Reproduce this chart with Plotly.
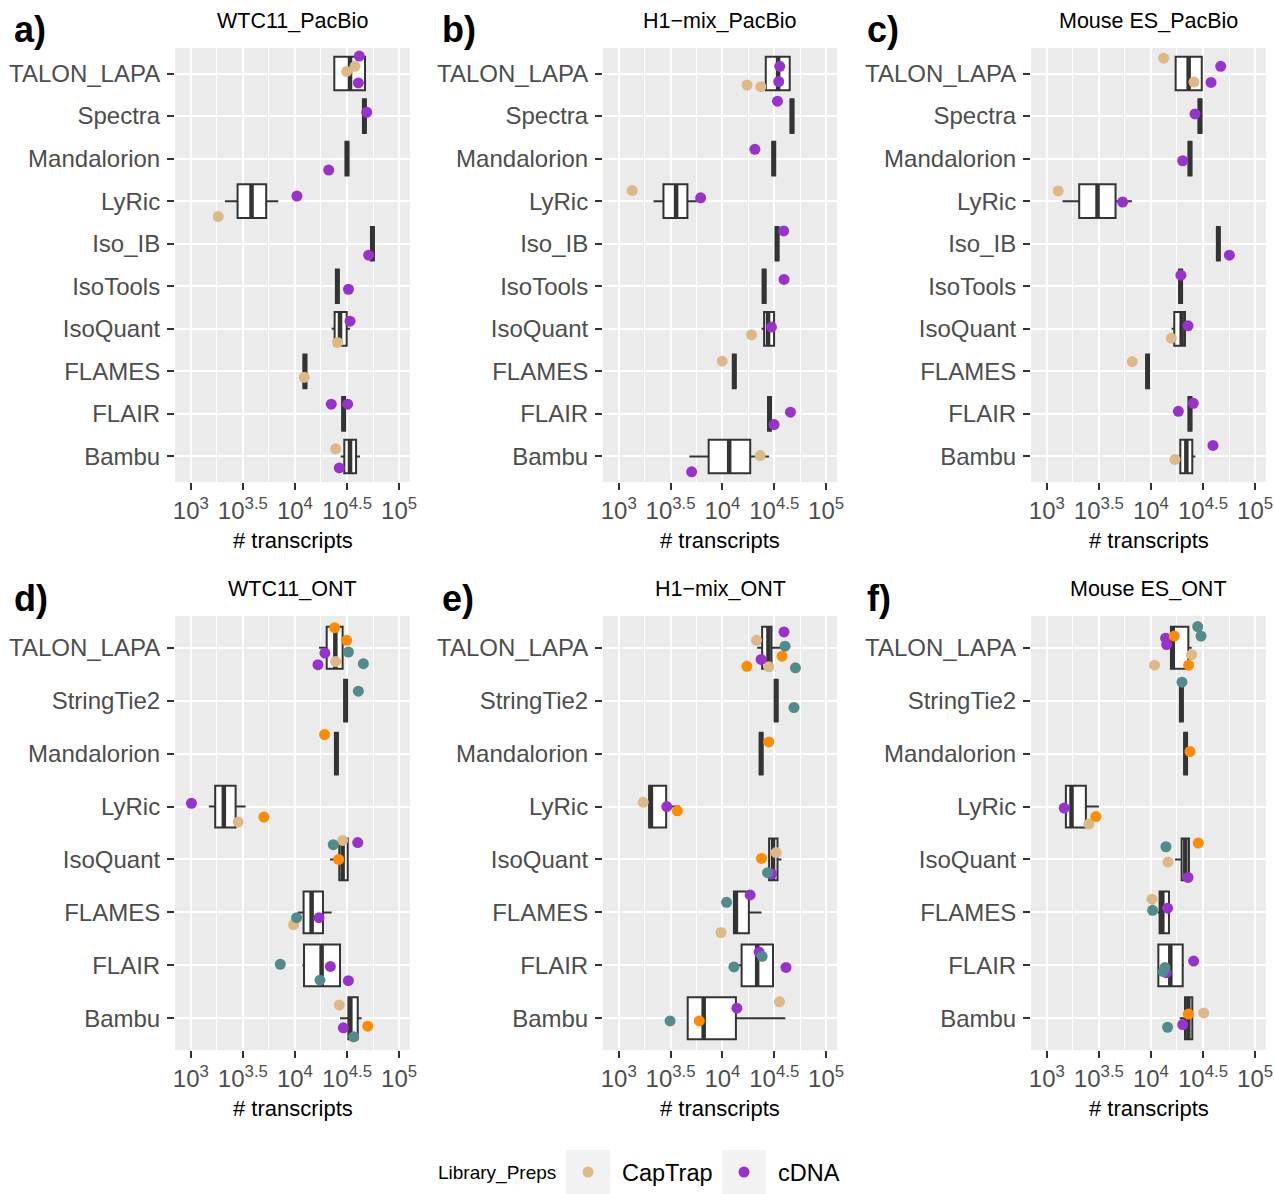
import plotly.graph_objects as go

# ---------------- data ----------------
PACBIO_METHODS = ["Bambu", "FLAIR", "FLAMES", "IsoQuant", "IsoTools", "Iso_IB",
                  "LyRic", "Mandalorion", "Spectra", "TALON_LAPA"]
ONT_METHODS = ["Bambu", "FLAIR", "FLAMES", "IsoQuant", "LyRic", "Mandalorion",
               "StringTie2", "TALON_LAPA"]

SAMPLES = ["WTC11_PacBio", "H1\u2212mix_PacBio", "Mouse ES_PacBio",
           "WTC11_ONT", "H1\u2212mix_ONT", "Mouse ES_ONT"]
PANEL_TAGS = ["a)", "b)", "c)", "d)", "e)", "f)"]

# box summaries in log10(# transcripts): (lower whisker, q1, median, q3, upper whisker)
wtc11_pacbio_box = [
    (4.439, 4.474, 4.529, 4.587, 4.625), (4.454, 4.454, 4.468, 4.482, 4.482),
    (4.082, 4.082, 4.096, 4.110, 4.110), (4.353, 4.381, 4.433, 4.497, 4.529),
    (4.393, 4.393, 4.407, 4.421, 4.421), (4.730, 4.730, 4.744, 4.758, 4.758),
    (3.327, 3.449, 3.583, 3.724, 3.840), (4.486, 4.486, 4.500, 4.514, 4.514),
    (4.653, 4.653, 4.667, 4.681, 4.681), (4.378, 4.378, 4.529, 4.673, 4.673)]
h1mix_pacbio_box = [
    (3.681, 3.867, 4.065, 4.268, 4.450), (4.440, 4.440, 4.454, 4.468, 4.468),
    (4.100, 4.100, 4.114, 4.128, 4.128), (4.377, 4.402, 4.440, 4.498, 4.498),
    (4.388, 4.388, 4.402, 4.416, 4.416), (4.513, 4.513, 4.527, 4.541, 4.541),
    (3.335, 3.431, 3.553, 3.662, 3.752), (4.481, 4.481, 4.495, 4.509, 4.509),
    (4.657, 4.657, 4.671, 4.685, 4.685), (4.418, 4.418, 4.537, 4.649, 4.649)]
mouse_pacbio_box = [
    (4.250, 4.282, 4.340, 4.397, 4.426), (4.361, 4.361, 4.375, 4.389, 4.389),
    (3.954, 3.954, 3.968, 3.982, 3.982), (4.199, 4.224, 4.295, 4.327, 4.327),
    (4.271, 4.271, 4.285, 4.299, 4.299), (4.633, 4.633, 4.647, 4.661, 4.661),
    (3.151, 3.311, 3.487, 3.660, 3.817), (4.361, 4.361, 4.375, 4.389, 4.389),
    (4.457, 4.457, 4.471, 4.485, 4.485), (4.237, 4.237, 4.362, 4.488, 4.488)]
wtc11_ont_box = [
    (4.433, 4.513, 4.532, 4.603, 4.641), (4.071, 4.087, 4.256, 4.433, 4.433),
    (4.026, 4.083, 4.160, 4.269, 4.353), (4.337, 4.426, 4.458, 4.507, 4.507),
    (3.173, 3.234, 3.317, 3.430, 3.526), (4.384, 4.384, 4.398, 4.412, 4.412),
    (4.473, 4.473, 4.487, 4.501, 4.501), (4.231, 4.305, 4.388, 4.458, 4.458)]
h1mix_ont_box = [
    (3.665, 3.665, 3.819, 4.130, 4.607), (4.114, 4.185, 4.335, 4.488, 4.488),
    (4.111, 4.111, 4.130, 4.255, 4.377), (4.450, 4.450, 4.488, 4.531, 4.569),
    (3.293, 3.293, 3.310, 3.457, 3.585), (4.359, 4.359, 4.373, 4.387, 4.387),
    (4.504, 4.504, 4.518, 4.532, 4.532), (4.335, 4.383, 4.444, 4.473, 4.569)]
mouse_ont_box = [
    (4.276, 4.327, 4.359, 4.397, 4.397), (4.071, 4.071, 4.186, 4.305, 4.317),
    (4.064, 4.083, 4.109, 4.173, 4.173), (4.231, 4.295, 4.330, 4.365, 4.365),
    (3.183, 3.183, 3.237, 3.375, 3.500), (4.319, 4.319, 4.333, 4.347, 4.347),
    (4.278, 4.278, 4.292, 4.306, 4.306), (4.192, 4.192, 4.210, 4.359, 4.391)]

# individual replicates: (method, library prep, log10(# transcripts), vertical jitter)
wtc11_pacbio_pts = [
    ("TALON_LAPA", "cDNA", 4.618, 0.41), ("TALON_LAPA", "CapTrap", 4.577, 0.17),
    ("TALON_LAPA", "CapTrap", 4.497, 0.05), ("TALON_LAPA", "cDNA", 4.609, -0.22),
    ("Spectra", "cDNA", 4.689, 0.09), ("Mandalorion", "cDNA", 4.324, -0.27),
    ("LyRic", "cDNA", 4.019, 0.12), ("LyRic", "CapTrap", 3.263, -0.36),
    ("Iso_IB", "cDNA", 4.708, -0.27), ("IsoTools", "cDNA", 4.514, -0.07),
    ("IsoQuant", "cDNA", 4.529, 0.18), ("IsoQuant", "CapTrap", 4.410, -0.32),
    ("FLAMES", "CapTrap", 4.090, -0.14), ("FLAIR", "cDNA", 4.349, 0.23),
    ("FLAIR", "cDNA", 4.506, 0.23), ("Bambu", "CapTrap", 4.391, 0.18),
    ("Bambu", "cDNA", 4.426, -0.27)]
h1mix_pacbio_pts = [
    ("TALON_LAPA", "cDNA", 4.553, 0.17), ("TALON_LAPA", "cDNA", 4.543, -0.19),
    ("TALON_LAPA", "CapTrap", 4.238, -0.27), ("TALON_LAPA", "CapTrap", 4.370, -0.31),
    ("Spectra", "cDNA", 4.531, 0.35), ("Mandalorion", "cDNA", 4.313, 0.22),
    ("LyRic", "CapTrap", 3.130, 0.25), ("LyRic", "cDNA", 3.790, 0.08),
    ("Iso_IB", "cDNA", 4.591, 0.30), ("IsoTools", "cDNA", 4.594, 0.16),
    ("IsoQuant", "cDNA", 4.473, 0.04), ("IsoQuant", "CapTrap", 4.281, -0.14),
    ("FLAMES", "CapTrap", 3.998, 0.24), ("FLAIR", "cDNA", 4.656, 0.04),
    ("FLAIR", "cDNA", 4.498, -0.25), ("Bambu", "CapTrap", 4.364, 0.02),
    ("Bambu", "cDNA", 3.703, -0.36)]
mouse_pacbio_pts = [
    ("TALON_LAPA", "CapTrap", 4.122, 0.36), ("TALON_LAPA", "cDNA", 4.670, 0.17),
    ("TALON_LAPA", "CapTrap", 4.413, -0.20), ("TALON_LAPA", "cDNA", 4.577, -0.21),
    ("Spectra", "cDNA", 4.423, 0.05), ("Mandalorion", "cDNA", 4.305, -0.05),
    ("LyRic", "CapTrap", 3.109, 0.24), ("LyRic", "cDNA", 3.728, -0.02),
    ("Iso_IB", "cDNA", 4.753, -0.27), ("IsoTools", "cDNA", 4.288, 0.26),
    ("IsoQuant", "cDNA", 4.356, 0.07), ("IsoQuant", "CapTrap", 4.195, -0.22),
    ("FLAMES", "CapTrap", 3.820, 0.23), ("FLAIR", "cDNA", 4.407, 0.25),
    ("FLAIR", "cDNA", 4.263, 0.06), ("Bambu", "cDNA", 4.596, 0.26),
    ("Bambu", "CapTrap", 4.231, -0.07)]
wtc11_ont_pts = [
    ("TALON_LAPA", "R2C2", 4.381, 0.38), ("TALON_LAPA", "R2C2", 4.497, 0.14),
    ("TALON_LAPA", "dRNA", 4.513, -0.08), ("TALON_LAPA", "cDNA", 4.288, -0.10),
    ("TALON_LAPA", "CapTrap", 4.391, -0.26), ("TALON_LAPA", "cDNA", 4.221, -0.32),
    ("TALON_LAPA", "dRNA", 4.657, -0.30), ("StringTie2", "dRNA", 4.609, 0.18),
    ("Mandalorion", "R2C2", 4.285, 0.36), ("LyRic", "cDNA", 3.006, 0.06),
    ("LyRic", "CapTrap", 3.455, -0.29), ("LyRic", "R2C2", 3.702, -0.20),
    ("IsoQuant", "dRNA", 4.368, 0.28), ("IsoQuant", "CapTrap", 4.458, 0.36),
    ("IsoQuant", "cDNA", 4.603, 0.32), ("IsoQuant", "R2C2", 4.420, 0.00),
    ("FLAMES", "dRNA", 4.016, -0.10), ("FLAMES", "CapTrap", 3.987, -0.23),
    ("FLAMES", "cDNA", 4.231, -0.10), ("FLAIR", "dRNA", 3.859, 0.02),
    ("FLAIR", "cDNA", 4.340, -0.02), ("FLAIR", "dRNA", 4.240, -0.28),
    ("FLAIR", "cDNA", 4.513, -0.29), ("Bambu", "CapTrap", 4.426, 0.25),
    ("Bambu", "R2C2", 4.699, -0.15), ("Bambu", "cDNA", 4.465, -0.18),
    ("Bambu", "dRNA", 4.564, -0.35)]
h1mix_ont_pts = [
    ("TALON_LAPA", "cDNA", 4.594, 0.30), ("TALON_LAPA", "CapTrap", 4.329, 0.14),
    ("TALON_LAPA", "dRNA", 4.604, 0.03), ("TALON_LAPA", "R2C2", 4.575, -0.16),
    ("TALON_LAPA", "cDNA", 4.373, -0.22), ("TALON_LAPA", "R2C2", 4.236, -0.35),
    ("TALON_LAPA", "CapTrap", 4.447, -0.36), ("TALON_LAPA", "dRNA", 4.704, -0.38),
    ("StringTie2", "dRNA", 4.690, -0.13), ("Mandalorion", "R2C2", 4.447, 0.22),
    ("LyRic", "CapTrap", 3.236, 0.08), ("LyRic", "cDNA", 3.463, 0.00),
    ("LyRic", "R2C2", 3.565, -0.08), ("IsoQuant", "CapTrap", 4.518, 0.13),
    ("IsoQuant", "R2C2", 4.377, 0.02), ("IsoQuant", "dRNA", 4.435, -0.25),
    ("IsoQuant", "cDNA", 4.473, -0.27), ("FLAMES", "cDNA", 4.267, 0.33),
    ("FLAMES", "dRNA", 4.040, 0.19), ("FLAMES", "CapTrap", 3.986, -0.38),
    ("FLAIR", "cDNA", 4.354, 0.25), ("FLAIR", "dRNA", 4.383, 0.17),
    ("FLAIR", "dRNA", 4.111, -0.03), ("FLAIR", "cDNA", 4.613, -0.04),
    ("Bambu", "CapTrap", 4.550, 0.31), ("Bambu", "cDNA", 4.139, 0.19),
    ("Bambu", "dRNA", 3.495, -0.05), ("Bambu", "R2C2", 3.777, -0.05)]
mouse_ont_pts = [
    ("TALON_LAPA", "dRNA", 4.449, 0.40), ("TALON_LAPA", "dRNA", 4.481, 0.22),
    ("TALON_LAPA", "R2C2", 4.224, 0.22), ("TALON_LAPA", "cDNA", 4.141, 0.18),
    ("TALON_LAPA", "cDNA", 4.151, 0.06), ("TALON_LAPA", "CapTrap", 4.391, -0.13),
    ("TALON_LAPA", "CapTrap", 4.035, -0.33), ("TALON_LAPA", "R2C2", 4.362, -0.33),
    ("StringTie2", "dRNA", 4.298, 0.35), ("Mandalorion", "R2C2", 4.375, 0.04),
    ("LyRic", "cDNA", 3.167, -0.03), ("LyRic", "R2C2", 3.471, -0.19),
    ("LyRic", "CapTrap", 3.404, -0.33), ("IsoQuant", "R2C2", 4.455, 0.31),
    ("IsoQuant", "dRNA", 4.144, 0.24), ("IsoQuant", "CapTrap", 4.163, -0.05),
    ("IsoQuant", "cDNA", 4.356, -0.34), ("FLAMES", "CapTrap", 4.010, 0.25),
    ("FLAMES", "dRNA", 4.016, 0.04), ("FLAMES", "cDNA", 4.160, 0.08),
    ("FLAIR", "cDNA", 4.410, 0.08), ("FLAIR", "dRNA", 4.135, -0.04),
    ("FLAIR", "cDNA", 4.147, -0.14), ("FLAIR", "dRNA", 4.118, -0.12),
    ("Bambu", "R2C2", 4.359, 0.08), ("Bambu", "CapTrap", 4.507, 0.10),
    ("Bambu", "cDNA", 4.305, -0.12), ("Bambu", "dRNA", 4.160, -0.17)]

PREP_COLORS = {"CapTrap": "#DEB887", "cDNA": "#9932CC",
               "R2C2": "#FF8C00", "dRNA": "#528B8B"}
LEGEND_PREPS = ["CapTrap", "cDNA"]

X_TICK_EXP = ["3", "3.5", "4", "4.5", "5"]
X_MINOR_EXP = [3.25, 3.75, 4.25, 4.75]

# ---------------- layout helpers ----------------
W, H = 1275, 1194
FONT = "Liberation Sans, Arial, Helvetica, sans-serif"
BOX_W = 0.79


def fx(px):
    return px / W


def fy(py):
    return 1 - py / H


COL_X = [(175, 410), (603, 837), (1031, 1266)]
ROW_Y = [(48, 482), (616, 1050)]
TAG_X = [12, 440, 865]

panels = [
    (wtc11_pacbio_box, wtc11_pacbio_pts, PACBIO_METHODS),
    (h1mix_pacbio_box, h1mix_pacbio_pts, PACBIO_METHODS),
    (mouse_pacbio_box, mouse_pacbio_pts, PACBIO_METHODS),
    (wtc11_ont_box, wtc11_ont_pts, ONT_METHODS),
    (h1mix_ont_box, h1mix_ont_pts, ONT_METHODS),
    (mouse_ont_box, mouse_ont_pts, ONT_METHODS),
]

fig = go.Figure()
annotations = []
layout_axes = {}

for i, (box, pts, methods) in enumerate(panels):
    k = i + 1
    xa = "x" if k == 1 else f"x{k}"
    ya = "y" if k == 1 else f"y{k}"
    row, col = divmod(i, 3)
    x0, x1 = COL_X[col]
    y0, y1 = ROW_Y[row]
    pos = list(range(1, len(methods) + 1))

    fig.add_trace(go.Box(
        orientation="h", y=pos,
        lowerfence=[10 ** b[0] for b in box],
        q1=[10 ** b[1] for b in box],
        median=[10 ** b[2] for b in box],
        q3=[10 ** b[3] for b in box],
        upperfence=[10 ** b[4] for b in box],
        width=BOX_W, whiskerwidth=0, boxpoints=False,
        fillcolor="white", line=dict(color="#333333", width=2),
        showlegend=False, hoverinfo="skip", xaxis=xa, yaxis=ya))

    # heavier median stroke, as in ggplot's boxplot
    mx, my = [], []
    for p, b in zip(pos, box):
        mx += [10 ** b[2], 10 ** b[2], None]
        my += [p - BOX_W / 2, p + BOX_W / 2, None]
    fig.add_trace(go.Scatter(
        x=mx, y=my, mode="lines", line=dict(color="#333333", width=4.5),
        showlegend=False, hoverinfo="skip", xaxis=xa, yaxis=ya))

    for prep in ["CapTrap", "cDNA", "R2C2", "dRNA"]:
        sel = [p for p in pts if p[1] == prep]
        if not sel:
            continue
        fig.add_trace(go.Scatter(
            x=[10 ** p[2] for p in sel],
            y=[methods.index(p[0]) + 1 + p[3] for p in sel],
            mode="markers", name=prep,
            marker=dict(color=PREP_COLORS[prep], size=11, line=dict(width=0)),
            showlegend=False, xaxis=xa, yaxis=ya))

    xkey = "xaxis" if k == 1 else f"xaxis{k}"
    ykey = "yaxis" if k == 1 else f"yaxis{k}"
    layout_axes[xkey] = dict(
        type="log", range=[2.848, 5.105], domain=[fx(x0), fx(x1)],
        anchor=ya, tickmode="array", automargin=False,
        tickvals=[10 ** float(e) for e in X_TICK_EXP],
        ticktext=["10<sup>%s</sup>" % e for e in X_TICK_EXP],
        ticks="outside", ticklen=7, tickwidth=2, tickcolor="#333333",
        tickfont=dict(family=FONT, size=24, color="#4D4D4D"),
        showgrid=True, gridcolor="white", gridwidth=2,
        minor=dict(tickmode="array", tickvals=[10 ** e for e in X_MINOR_EXP],
                   showgrid=True, gridcolor="white", gridwidth=1, ticks=""),
        zeroline=False, showline=False, fixedrange=True)
    layout_axes[ykey] = dict(
        range=[0.4, len(methods) + 0.6], domain=[fy(y1), fy(y0)],
        anchor=xa, tickmode="array", tickvals=pos, ticktext=methods,
        automargin=False, ticklabelstandoff=2,
        ticks="outside", ticklen=7, tickwidth=2, tickcolor="#333333",
        tickfont=dict(family=FONT, size=24, color="#4D4D4D"),
        showgrid=True, gridcolor="white", gridwidth=2,
        zeroline=False, showline=False, fixedrange=True)

    cx = (x0 + x1) / 2
    annotations.append(dict(
        text=SAMPLES[i], x=fx(cx), y=fy(y0 - 27), xref="paper", yref="paper",
        xanchor="center", yanchor="middle", showarrow=False,
        font=dict(family=FONT, size=21.5, color="black")))
    annotations.append(dict(
        text="<b>%s</b>" % PANEL_TAGS[i], x=fx(TAG_X[col]), y=fy(y0 - 18),
        xref="paper", yref="paper", xanchor="left", yanchor="middle",
        showarrow=False, font=dict(family=FONT, size=36, color="black")))
    annotations.append(dict(
        text="# transcripts", x=fx(cx), y=fy(y1 + 58), xref="paper", yref="paper",
        xanchor="center", yanchor="middle", showarrow=False,
        font=dict(family=FONT, size=22, color="black")))

# ---------------- legend ----------------
shapes = []
annotations.append(dict(
    text="Library_Preps", x=fx(436), y=fy(1173), xref="paper", yref="paper",
    xanchor="left", yanchor="middle", showarrow=False,
    font=dict(family=FONT, size=19, color="black")))
key_left = [566, 722]
for prep, kl in zip(LEGEND_PREPS, key_left):
    shapes.append(dict(type="rect", xref="paper", yref="paper",
                       x0=fx(kl), x1=fx(kl + 44), y0=fy(1194), y1=fy(1150),
                       fillcolor="#F2F2F2", line=dict(width=0), layer="below"))
    shapes.append(dict(type="circle", xref="paper", yref="paper",
                       xsizemode="pixel", ysizemode="pixel",
                       xanchor=fx(kl + 22), yanchor=fy(1172),
                       x0=-5.5, x1=5.5, y0=-5.5, y1=5.5,
                       fillcolor=PREP_COLORS[prep], line=dict(width=0)))
    annotations.append(dict(
        text=prep, x=fx(kl + 54), y=fy(1173), xref="paper", yref="paper",
        xanchor="left", yanchor="middle", showarrow=False,
        font=dict(family=FONT, size=23.5, color="black")))

fig.update_layout(
    width=W, height=H, margin=dict(l=0, r=0, t=0, b=0),
    paper_bgcolor="white", plot_bgcolor="#EBEBEB",
    showlegend=False, annotations=annotations, shapes=shapes,
    font=dict(family=FONT), **layout_axes)

fig.write_html("out.html")
